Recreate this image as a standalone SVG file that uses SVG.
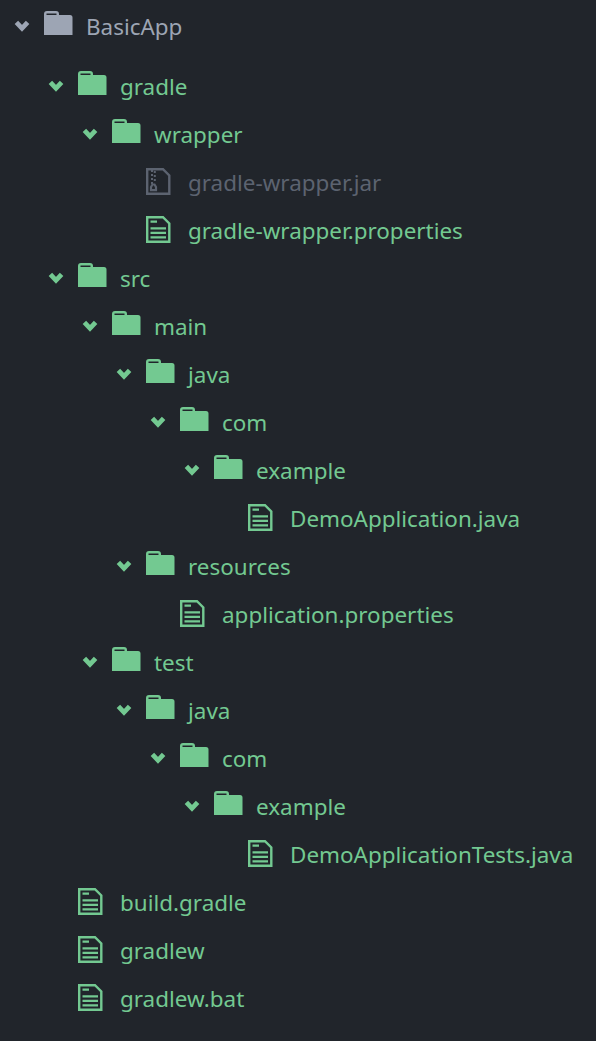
<svg xmlns="http://www.w3.org/2000/svg" width="596" height="1041" viewBox="0 0 596 1041">
<style>
text{font-family:"Noto Sans","Open Sans",sans-serif;font-size:22.450px}
.g{fill:#73c991}
.t{fill:#9da5b4}.j{fill:#5c6370}
</style>
<defs>
<path id="folder" fill-rule="evenodd" d="M0 3Q0 0 3 0H12Q15 0 15 3V4H26Q28.500 4 28.500 6.500V24H0ZM2.500 2.500V4H12.500V2.500Z"/>
<path id="chevron" d="M-5.600 -4.600L0 1.300L5.600 -4.600" fill="none" stroke-width="4.800"/>
<g id="doc" fill="none" stroke-width="2.400">
<path d="M1.200 2.200H17L23.300 8.500V26.800H1.200Z"/>
<path d="M4.500 6.700H11M4.500 13.300H20M4.500 17.800H20M4.500 22.300H20" stroke-width="2.200"/>
</g>
<g id="zip" fill="none" stroke-width="2.400">
<path d="M1.200 2.200H17L23.300 8.500V26.800H1.200Z"/>
<path d="M6 3V17M8.800 4V16" stroke-dasharray="2 2" stroke-width="2"/>
<path d="M5 23.200V20L6.500 17.500H8.500L10 20V23.200Z" stroke-width="2.200"/>
</g>
</defs>
<rect width="596" height="1041" fill="#21252b"/>
<g id="connectors"/>
<g id="n-basicapp"><use href="#chevron" x="22" y="27" stroke="#9da5b4"/><use href="#folder" x="44" y="11" fill="#9da5b4"/><text x="86" y="35" class="t">BasicApp</text></g>
<g id="n-gradle"><use href="#chevron" x="56" y="87" stroke="#73c991"/><use href="#folder" x="78" y="71" class="g"/><text x="120" y="95" class="g">gradle</text></g>
<g id="n-wrapper"><use href="#chevron" x="90" y="135" stroke="#73c991"/><use href="#folder" x="112" y="119" class="g"/><text x="154" y="143" class="g">wrapper</text></g>
<g id="n-jar"><use href="#zip" x="146" y="167" stroke="#5c6370"/><text x="188" y="191" class="j">gradle-wrapper.jar</text></g>
<g id="n-wrapperprops"><use href="#doc" x="146" y="215" stroke="#73c991"/><text x="188" y="239" class="g">gradle-wrapper.properties</text></g>
<g id="n-src"><use href="#chevron" x="56" y="279" stroke="#73c991"/><use href="#folder" x="78" y="263" class="g"/><text x="120" y="287" class="g">src</text></g>
<g id="n-main"><use href="#chevron" x="90" y="327" stroke="#73c991"/><use href="#folder" x="112" y="311" class="g"/><text x="154" y="335" class="g">main</text></g>
<g id="n-java1"><use href="#chevron" x="124" y="375" stroke="#73c991"/><use href="#folder" x="146" y="359" class="g"/><text x="188" y="383" class="g">java</text></g>
<g id="n-com1"><use href="#chevron" x="158" y="423" stroke="#73c991"/><use href="#folder" x="180" y="407" class="g"/><text x="222" y="431" class="g">com</text></g>
<g id="n-example1"><use href="#chevron" x="192" y="471" stroke="#73c991"/><use href="#folder" x="214" y="455" class="g"/><text x="256" y="479" class="g">example</text></g>
<g id="n-demoapp"><use href="#doc" x="248" y="503" stroke="#73c991"/><text x="290" y="527" class="g">DemoApplication.java</text></g>
<g id="n-resources"><use href="#chevron" x="124" y="567" stroke="#73c991"/><use href="#folder" x="146" y="551" class="g"/><text x="188" y="575" class="g">resources</text></g>
<g id="n-appprops"><use href="#doc" x="180" y="599" stroke="#73c991"/><text x="222" y="623" class="g">application.properties</text></g>
<g id="n-test"><use href="#chevron" x="90" y="663" stroke="#73c991"/><use href="#folder" x="112" y="647" class="g"/><text x="154" y="671" class="g">test</text></g>
<g id="n-java2"><use href="#chevron" x="124" y="711" stroke="#73c991"/><use href="#folder" x="146" y="695" class="g"/><text x="188" y="719" class="g">java</text></g>
<g id="n-com2"><use href="#chevron" x="158" y="759" stroke="#73c991"/><use href="#folder" x="180" y="743" class="g"/><text x="222" y="767" class="g">com</text></g>
<g id="n-example2"><use href="#chevron" x="192" y="807" stroke="#73c991"/><use href="#folder" x="214" y="791" class="g"/><text x="256" y="815" class="g">example</text></g>
<g id="n-demotests"><use href="#doc" x="248" y="839" stroke="#73c991"/><text x="290" y="863" class="g">DemoApplicationTests.java</text></g>
<g id="n-build"><use href="#doc" x="78" y="887" stroke="#73c991"/><text x="120" y="911" class="g">build.gradle</text></g>
<g id="n-gradlew"><use href="#doc" x="78" y="935" stroke="#73c991"/><text x="120" y="959" class="g">gradlew</text></g>
<g id="n-gradlewbat"><use href="#doc" x="78" y="983" stroke="#73c991"/><text x="120" y="1007" class="g">gradlew.bat</text></g>
</svg>
